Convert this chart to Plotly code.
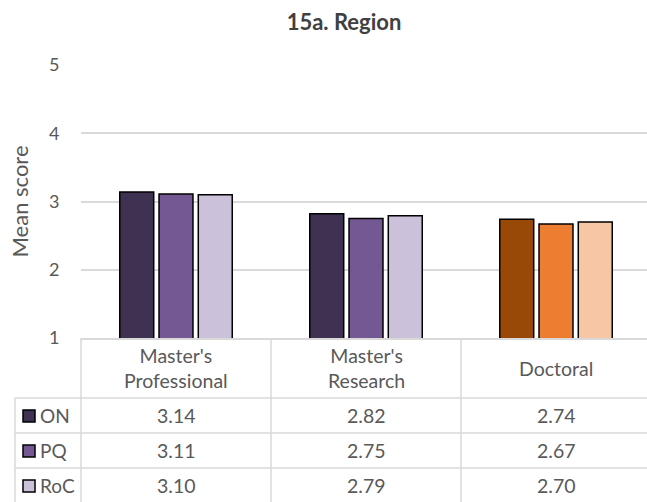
import plotly.graph_objects as go

# Data
categories = ["Master's Professional", "Master's Research", "Doctoral"]
header_labels = ["Master's<br>Professional", "Master's<br>Research", "Doctoral"]
series_names = ["ON", "PQ", "RoC"]
on_values = [3.14, 2.82, 2.74]
pq_values = [3.11, 2.75, 2.67]
roc_values = [3.10, 2.79, 2.70]
y_ticks = [1, 2, 3, 4, 5]

series_values = [on_values, pq_values, roc_values]

# Colours: purple shades for the master's groups, orange shades for doctoral
purple = ["#3F3151", "#735894", "#CCC1DA"]
orange = ["#984807", "#ED7D31", "#F7C6A4"]

W, H = 647, 502
L, R, T, B = 81, 0, 65, 164
plot_w = W - L - R
plot_h = H - T - B
cat_px = 190.0
x0 = -0.5
x1 = x0 + plot_w / cat_px

FONT = "Lato"
GREY = "#595959"
LINE = "#D9D9D9"
TXT = 19.5


def py(pix):
    """Pixel row -> paper y."""
    return (H - B - pix) / plot_h


def px(pix):
    """Pixel column -> paper x."""
    return (pix - L) / plot_w


def cx(v):
    """Category coordinate -> paper x."""
    return (v - x0) / (x1 - x0)


fig = go.Figure()
for i, (name, vals) in enumerate(zip(series_names, series_values)):
    colors = [purple[i], purple[i], orange[i]]
    fig.add_trace(go.Bar(
        x=categories, y=vals, name=name,
        marker=dict(color=colors, line=dict(color="#000000", width=1.5)),
        showlegend=False,
    ))

shapes = []
annotations = []

# Table grid lines
row_lines = [398, 433, 468]
for r in row_lines:
    shapes.append(dict(type="line", xref="paper", yref="paper",
                       x0=px(15), x1=1.02, y0=py(r), y1=py(r),
                       line=dict(color=LINE, width=1.5)))
shapes.append(dict(type="line", xref="paper", yref="paper",
                   x0=px(15), x1=px(15), y0=py(398), y1=py(H + 5),
                   line=dict(color=LINE, width=1.5)))
for k in range(len(categories)):
    xb = cx(k - 0.5)
    shapes.append(dict(type="line", xref="paper", yref="paper",
                       x0=xb, x1=xb, y0=0, y1=py(H + 5),
                       line=dict(color=LINE, width=1.5)))

# Column headers
for k, lab in enumerate(header_labels):
    annotations.append(dict(x=categories[k], xref="x", y=py(368), yref="paper",
                            text=lab, showarrow=False, xanchor="center", yanchor="middle",
                            font=dict(family=FONT, size=TXT, color=GREY)))

# Value rows with legend keys
row_centers = [416, 451, 486]
for i, (name, vals) in enumerate(zip(series_names, series_values)):
    yc = row_centers[i]
    shapes.append(dict(type="rect", xref="paper", yref="paper",
                       x0=px(23), x1=px(35), y0=py(yc - 6), y1=py(yc + 6),
                       fillcolor=purple[i], line=dict(color="#000000", width=1.5)))
    annotations.append(dict(x=px(38), xref="paper", y=py(yc), yref="paper",
                            text=name, showarrow=False, xanchor="left", yanchor="middle",
                            font=dict(family=FONT, size=19, color=GREY)))
    for k, v in enumerate(vals):
        annotations.append(dict(x=categories[k], xref="x", y=py(yc), yref="paper",
                                text=f"{v:.2f}", showarrow=False, xanchor="center",
                                yanchor="middle",
                                font=dict(family=FONT, size=TXT, color=GREY)))

# Y-axis title
annotations.append(dict(x=px(19), xref="paper", y=0.5, yref="paper",
                        text="Mean score", textangle=-90, showarrow=False,
                        xanchor="center", yanchor="middle",
                        font=dict(family=FONT, size=22, color=GREY)))

fig.update_layout(
    width=W, height=H,
    margin=dict(l=L, r=R, t=T, b=B, pad=0),
    paper_bgcolor="white", plot_bgcolor="white",
    title=dict(text="<b>15a. Region</b>", x=344 / W, xref="container", xanchor="center",
               y=1 - 22 / H, yref="container", yanchor="middle",
               font=dict(family=FONT, size=22, color="#404040")),
    barmode="group", bargap=0.38, bargroupgap=0.135,
    xaxis=dict(type="category", range=[x0, x1], showticklabels=False,
               showgrid=False, zeroline=False, showline=True,
               linecolor=LINE, linewidth=1.5, ticks=""),
    yaxis=dict(range=[1, 5], tickvals=y_ticks, showgrid=True, gridcolor=LINE,
               gridwidth=1.5, zeroline=False, showline=False,
               ticks="outside", ticklen=17, tickcolor="rgba(0,0,0,0)",
               tickfont=dict(family=FONT, size=18, color=GREY)),
    shapes=shapes, annotations=annotations,
    font=dict(family=FONT, color=GREY),
)

fig.write_html("out.html")
